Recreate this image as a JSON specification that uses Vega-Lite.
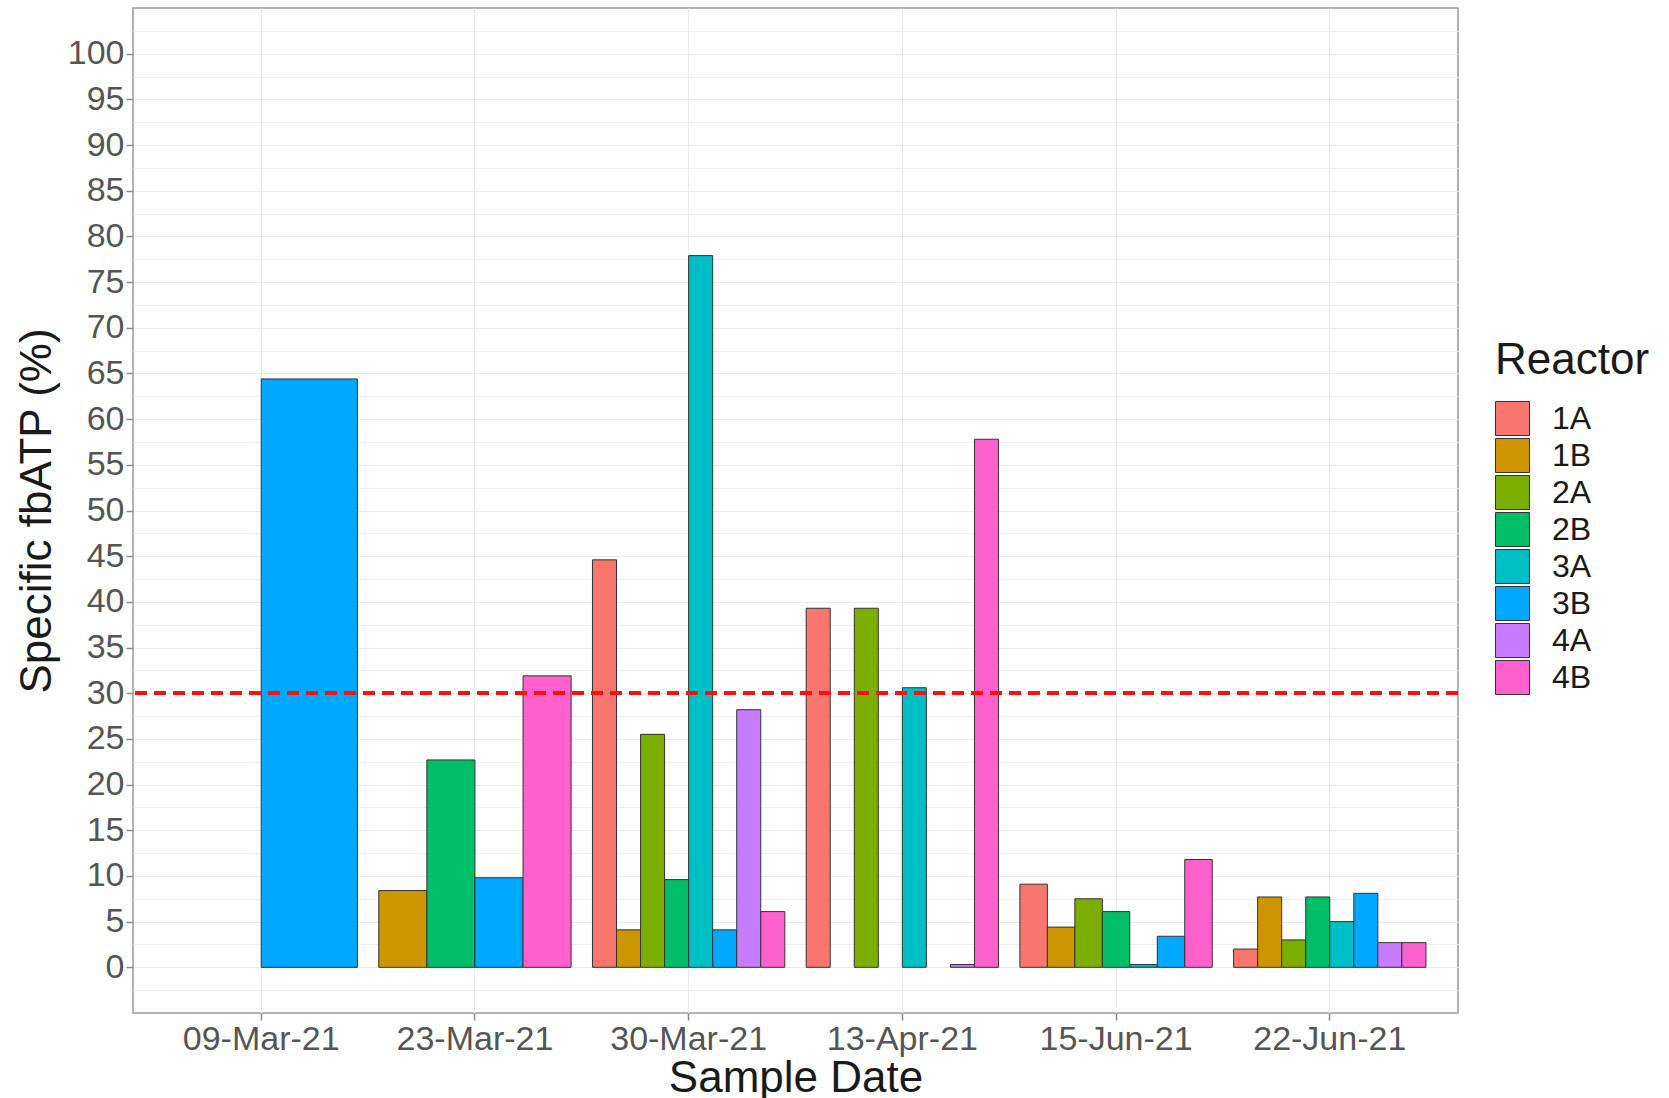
{
  "$schema": "https://vega.github.io/schema/vega-lite/v6.json",
  "width": 1325,
  "height": 1005,
  "autosize": {"type": "none"},
  "padding": {"left": 133, "top": 8, "right": 211, "bottom": 85},
  "background": "white",
  "config": {
    "font": "Liberation Sans",
    "view": {"stroke": "#9a9a9a", "strokeWidth": 1.5}
  },
  "data": {
    "values": [
      {"date": "09-Mar-21", "reactor": "3A", "value": null},
      {"date": "09-Mar-21", "reactor": "3B", "value": 64.4},
      {"date": "23-Mar-21", "reactor": "1B", "value": 8.4},
      {"date": "23-Mar-21", "reactor": "2B", "value": 22.7},
      {"date": "23-Mar-21", "reactor": "3B", "value": 9.8},
      {"date": "23-Mar-21", "reactor": "4B", "value": 31.9},
      {"date": "30-Mar-21", "reactor": "1A", "value": 44.6},
      {"date": "30-Mar-21", "reactor": "1B", "value": 4.1},
      {"date": "30-Mar-21", "reactor": "2A", "value": 25.5},
      {"date": "30-Mar-21", "reactor": "2B", "value": 9.6},
      {"date": "30-Mar-21", "reactor": "3A", "value": 77.9},
      {"date": "30-Mar-21", "reactor": "3B", "value": 4.1},
      {"date": "30-Mar-21", "reactor": "4A", "value": 28.2},
      {"date": "30-Mar-21", "reactor": "4B", "value": 6.1},
      {"date": "13-Apr-21", "reactor": "1A", "value": 39.3},
      {"date": "13-Apr-21", "reactor": "1B", "value": null},
      {"date": "13-Apr-21", "reactor": "2A", "value": 39.3},
      {"date": "13-Apr-21", "reactor": "2B", "value": null},
      {"date": "13-Apr-21", "reactor": "3A", "value": 30.6},
      {"date": "13-Apr-21", "reactor": "3B", "value": null},
      {"date": "13-Apr-21", "reactor": "4A", "value": 0.3},
      {"date": "13-Apr-21", "reactor": "4B", "value": 57.8},
      {"date": "15-Jun-21", "reactor": "1A", "value": 9.1},
      {"date": "15-Jun-21", "reactor": "1B", "value": 4.4},
      {"date": "15-Jun-21", "reactor": "2A", "value": 7.5},
      {"date": "15-Jun-21", "reactor": "2B", "value": 6.1},
      {"date": "15-Jun-21", "reactor": "3A", "value": 0.3},
      {"date": "15-Jun-21", "reactor": "3B", "value": 3.4},
      {"date": "15-Jun-21", "reactor": "4B", "value": 11.8},
      {"date": "22-Jun-21", "reactor": "1A", "value": 2.0},
      {"date": "22-Jun-21", "reactor": "1B", "value": 7.7},
      {"date": "22-Jun-21", "reactor": "2A", "value": 3.0},
      {"date": "22-Jun-21", "reactor": "2B", "value": 7.7},
      {"date": "22-Jun-21", "reactor": "3A", "value": 5.0},
      {"date": "22-Jun-21", "reactor": "3B", "value": 8.1},
      {"date": "22-Jun-21", "reactor": "4A", "value": 2.7},
      {"date": "22-Jun-21", "reactor": "4B", "value": 2.7}
    ]
  },
  "layer": [
    {
      "mark": {"type": "rule", "opacity": 0},
      "encoding": {
        "y": {
          "datum": 0,
          "type": "quantitative",
          "scale": {"domain": [-5, 105], "nice": false, "zero": false},
          "axis": {
            "orient": "left",
            "values": [-2.5, 2.5, 7.5, 12.5, 17.5, 22.5, 27.5, 32.5, 37.5, 42.5, 47.5, 52.5, 57.5, 62.5, 67.5, 72.5, 77.5, 82.5, 87.5, 92.5, 97.5, 102.5],
            "labels": false,
            "ticks": false,
            "domain": false,
            "grid": true,
            "gridColor": "#EFEFEF",
            "gridWidth": 1,
            "title": null
          }
        }
      }
    },
    {
      "encoding": {
        "x": {
          "field": "date",
          "type": "nominal",
          "title": "Sample Date",
          "scale": {
            "domain": ["09-Mar-21", "23-Mar-21", "30-Mar-21", "13-Apr-21", "15-Jun-21", "22-Jun-21"],
            "paddingInner": 0.1,
            "paddingOuter": 0.15
          },
          "axis": {
            "labelAngle": 0,
            "bandPosition": 0.5,
            "domain": false,
            "grid": true,
            "gridColor": "#EBEBEB",
            "gridWidth": 1,
            "tickColor": "#8a8a8a",
            "tickSize": 7,
            "tickWidth": 1.5,
            "labelFontSize": 34,
            "labelColor": "#555555",
            "labelPadding": 2,
            "titleFontSize": 44,
            "titleFontWeight": "normal",
            "titleColor": "#1a1a1a",
            "titlePadding": 0
          }
        },
        "y": {
          "field": "value",
          "type": "quantitative",
          "title": "Specific fbATP (%)",
          "axis": {
            "orient": "left",
            "values": [0, 5, 10, 15, 20, 25, 30, 35, 40, 45, 50, 55, 60, 65, 70, 75, 80, 85, 90, 95, 100],
            "labelOverlap": false,
            "domain": false,
            "grid": true,
            "gridColor": "#EBEBEB",
            "gridWidth": 1.2,
            "tickColor": "#8a8a8a",
            "tickSize": 7,
            "tickWidth": 1.5,
            "labelFontSize": 34,
            "labelColor": "#555555",
            "labelPadding": 2,
            "titleFontSize": 44,
            "titleFontWeight": "normal",
            "titleColor": "#1a1a1a",
            "titlePadding": 8
          }
        },
        "color": {
          "field": "reactor",
          "type": "nominal",
          "title": "Reactor",
          "scale": {
            "domain": ["1A", "1B", "2A", "2B", "3A", "3B", "4A", "4B"],
            "range": ["#F8766D", "#CD9600", "#7CAE00", "#00BE67", "#00BFC4", "#00A9FF", "#C77CFF", "#FF61CC"]
          },
          "legend": {
            "orient": "none",
            "legendX": 1362,
            "legendY": 331,
            "symbolType": "square",
            "symbolSize": 1156,
            "symbolStrokeColor": "#333333",
            "symbolStrokeWidth": 1,
            "symbolOpacity": 1,
            "labelFontSize": 32,
            "labelColor": "#1a1a1a",
            "labelOffset": 22,
            "rowPadding": -4,
            "titleFontSize": 44,
            "titleFontWeight": "normal",
            "titleColor": "#1a1a1a",
            "titlePadding": 18
          }
        }
      },
      "layer": [
        {
          "transform": [{"filter": "datum.date === '09-Mar-21'"}],
          "mark": {"type": "bar", "stroke": "#333333", "strokeWidth": 1},
          "encoding": {"xOffset": {"field": "reactor", "type": "nominal", "scale": {"domain": ["3A", "3B"], "paddingInner": 0, "paddingOuter": 0}}}
        },
        {
          "transform": [{"filter": "datum.date === '23-Mar-21'"}],
          "mark": {"type": "bar", "stroke": "#333333", "strokeWidth": 1},
          "encoding": {"xOffset": {"field": "reactor", "type": "nominal", "scale": {"domain": ["1B", "2B", "3B", "4B"], "paddingInner": 0, "paddingOuter": 0}}}
        },
        {
          "transform": [{"filter": "datum.date === '30-Mar-21' || datum.date === '13-Apr-21' || datum.date === '22-Jun-21'"}],
          "mark": {"type": "bar", "stroke": "#333333", "strokeWidth": 1},
          "encoding": {"xOffset": {"field": "reactor", "type": "nominal", "scale": {"domain": ["1A", "1B", "2A", "2B", "3A", "3B", "4A", "4B"], "paddingInner": 0, "paddingOuter": 0}}}
        },
        {
          "transform": [{"filter": "datum.date === '15-Jun-21'"}],
          "mark": {"type": "bar", "stroke": "#333333", "strokeWidth": 1},
          "encoding": {"xOffset": {"field": "reactor", "type": "nominal", "scale": {"domain": ["1A", "1B", "2A", "2B", "3A", "3B", "4B"], "paddingInner": 0, "paddingOuter": 0}}}
        }
      ],
      "resolve": {"scale": {"xOffset": "independent"}}
    },
    {
      "mark": {"type": "rule", "color": "#FF1010", "strokeWidth": 3, "strokeDash": [12, 7]},
      "encoding": {"y": {"datum": 30, "type": "quantitative", "axis": null}}
    }
  ],
  "resolve": {"axis": {"y": "independent"}}
}
